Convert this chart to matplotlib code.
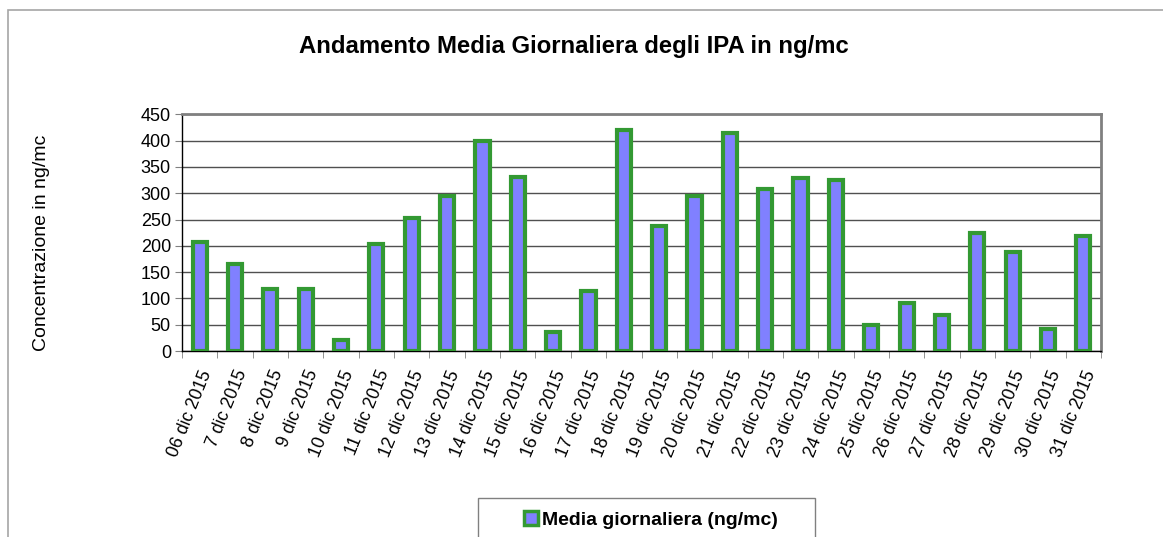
import matplotlib
matplotlib.use("Agg")
import matplotlib.pyplot as plt
from matplotlib.patches import Rectangle, Patch

plt.rcParams['font.family'] = ['Liberation Sans', 'DejaVu Sans']

labels = ["06 dic 2015"] + [f"{d} dic 2015" for d in range(7, 32)]
values = [207, 166, 117, 117, 20, 203, 252, 294, 400, 330, 36, 115, 421,
          237, 294, 414, 308, 328, 326, 49, 92, 69, 225, 188, 41, 219]
yticks = [0, 50, 100, 150, 200, 250, 300, 350, 400, 450]

title = "Andamento Media Giornaliera degli IPA in ng/mc"
ylabel = "Concentrazione in ng/mc"
series_name = "Media giornaliera (ng/mc)"

FACE = "#8080FF"
EDGE = "#339933"

W, H = 1163, 537
fig = plt.figure(figsize=(W / 100, H / 100), dpi=100)

# outer chart border
fig.patches.append(Rectangle((8 / W, -0.1), 1.2, 1 - 10 / H + 0.1,
                             transform=fig.transFigure, fill=False,
                             edgecolor="#A6A6A6", linewidth=1.2))

ax = fig.add_axes([182 / W, 1 - 351 / H, (1101 - 182) / W, (351 - 114.3) / H])
x = list(range(len(values)))
ax.bar(x, values, width=0.40, color=FACE, edgecolor=EDGE, linewidth=3.0, zorder=3)

ax.set_xlim(-0.5, len(values) - 0.5)
ax.set_ylim(0, 450)
ax.set_yticks(yticks)
ax.set_yticklabels([str(v) for v in yticks], fontsize=13)
ax.yaxis.grid(True, color="#505050", linewidth=1.0, zorder=0)
ax.set_axisbelow(True)

ax.set_xticks(x)
ax.set_xticklabels(labels, rotation=68, ha="right", va="top",
                   rotation_mode="anchor", fontsize=12.8)
ax.tick_params(axis="x", which="major", length=0, pad=12)
ax.set_xticks([i - 0.5 for i in range(len(values) + 1)], minor=True)
ax.tick_params(axis="x", which="minor", length=5, color="#808080", direction="out")
ax.tick_params(axis="y", length=5, color="#808080", direction="out", pad=3)

for s in ("top", "right"):
    ax.spines[s].set_color("#808080")
    ax.spines[s].set_linewidth(2.0)
ax.spines["left"].set_color("black")
ax.spines["bottom"].set_color("black")
ax.spines["left"].set_linewidth(1.0)
ax.spines["bottom"].set_linewidth(1.0)

fig.text(574 / W, 1 - 47 / H, title, ha="center", va="center",
         fontsize=17.2, fontweight="bold")
fig.text(42 / W, 1 - 243 / H, ylabel, ha="center", va="center",
         rotation=90, fontsize=14)

# legend frame
fig.patches.append(Rectangle((478 / W, -0.1), (815 - 478) / W, 0.1 + 1 - 498 / H,
                             transform=fig.transFigure, fill=False,
                             edgecolor="#808080", linewidth=1.0))
handle = Patch(facecolor=FACE, edgecolor=EDGE, linewidth=2.5)
fig.legend([handle], [series_name], loc="center", bbox_to_anchor=(651 / W, 1 - 520 / H),
           frameon=False, prop={"size": 14, "weight": "bold"},
           handlelength=0.7, handleheight=0.7, handletextpad=0.2)

fig.savefig("out.png", dpi=100)
